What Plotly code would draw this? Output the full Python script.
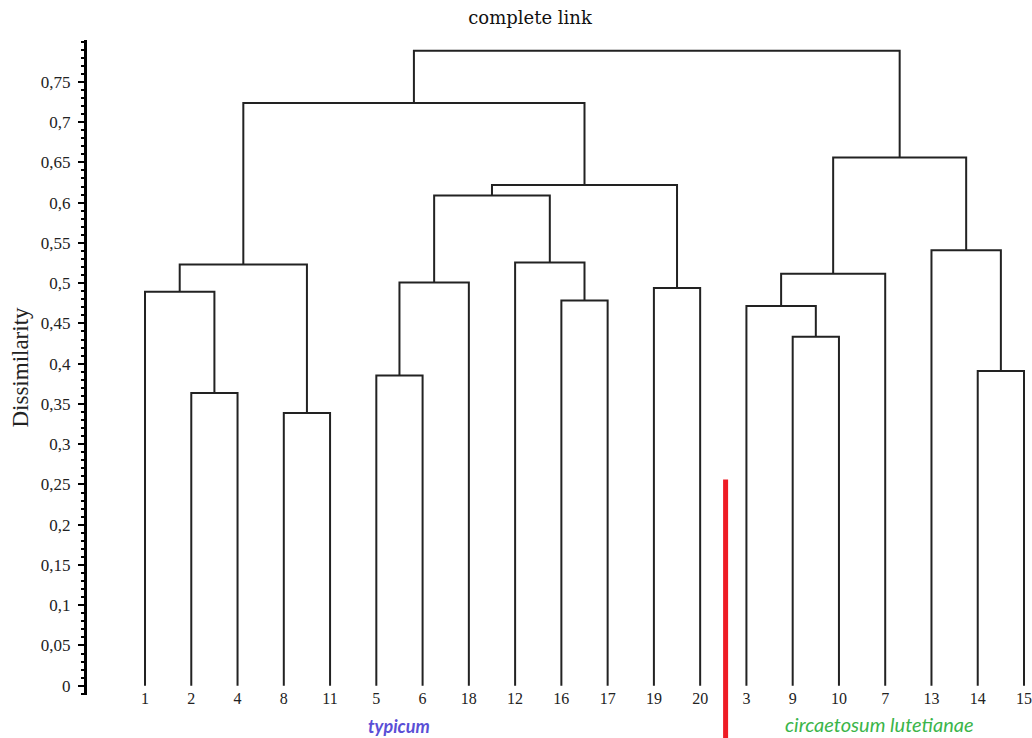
import plotly.graph_objects as go

# ---- data ----
leaves = ["1", "2", "4", "8", "11", "5", "6", "18", "12", "16", "17",
          "19", "20", "3", "9", "10", "7", "13", "14", "15"]

merge_left = ["2", "8", "1", "m2", "5", "m4", "16", "12", "m5", "19", "m8", "m3",
              "9", "3", "m13", "14", "13", "m14", "m11"]
merge_right = ["4", "11", "m0", "m1", "6", "18", "17", "m6", "m7", "20", "m9", "m10",
               "10", "m12", "7", "15", "m15", "m16", "m17"]
merge_height = [0.3635, 0.3386, 0.4893, 0.5233, 0.3854, 0.5009, 0.4786, 0.5258,
                0.6090, 0.4939, 0.6218, 0.7236, 0.4334, 0.4715, 0.5116, 0.3908,
                0.5410, 0.6562, 0.7885]

y_tickvals = [0, 0.05, 0.1, 0.15, 0.2, 0.25, 0.3, 0.35, 0.4, 0.45, 0.5, 0.55,
              0.6, 0.65, 0.7, 0.75]
y_ticktext = ["0", "0,05", "0,1", "0,15", "0,2", "0,25", "0,3", "0,35", "0,4",
              "0,45", "0,5", "0,55", "0,6", "0,65", "0,7", "0,75"]

group_names = ["typicum", "circaetosum lutetianae"]
group_colors = ["#5a4fd6", "#3bb54a"]
separator_x = 13.55
separator_top = 0.256

# ---- build dendrogram geometry ----
pos = {name: (i + 1, 0.0) for i, name in enumerate(leaves)}
xs, ys = [], []
for k, (a, b, h) in enumerate(zip(merge_left, merge_right, merge_height)):
    xa, ya = pos[a]
    xb, yb = pos[b]
    xs += [xa, xa, xb, xb, None]
    ys += [ya, h, h, yb, None]
    pos["m%d" % k] = ((xa + xb) / 2.0, h)

fig = go.Figure()
fig.add_trace(go.Scatter(x=xs, y=ys, mode="lines",
                         line=dict(color="#222222", width=2),
                         hoverinfo="skip", showlegend=False))

x_lo, x_hi = -0.254, 20.173
y_lo, y_hi = -0.0115, 0.802

fig.update_layout(
    width=1032, height=738,
    margin=dict(l=87, r=0, t=40, b=43),
    plot_bgcolor="white", paper_bgcolor="white",
    showlegend=False,
    title=dict(text="complete link", x=0.5136, xref="container", xanchor="center",
               y=0.976, yref="container", yanchor="middle",
               font=dict(family="DejaVu Serif", size=18, color="#111111")),
    xaxis=dict(range=[x_lo, x_hi], showgrid=False, zeroline=False, showline=False,
               tickmode="array", tickvals=list(range(1, len(leaves) + 1)),
               ticktext=leaves, ticks="", ticklabelstandoff=-8,
               tickfont=dict(family="Liberation Serif", size=16, color="#222222")),
    yaxis=dict(range=[y_lo, y_hi], showgrid=False, zeroline=False,
               showline=True, linecolor="black", linewidth=3,
               tickmode="array", tickvals=y_tickvals, ticktext=y_ticktext,
               ticks="outside", ticklen=6, tickwidth=2, tickcolor="black",
               ticklabelstandoff=4,
               minor=dict(dtick=0.01, ticks="outside", ticklen=3, tickwidth=1.5,
                          tickcolor="black", showgrid=False),
               tickfont=dict(family="Liberation Serif", size=17, color="#222222"),
               title=dict(text="Dissimilarity", standoff=6,
                          font=dict(family="Liberation Serif", size=23, color="#222222"))),
)

fig.add_shape(type="line", xref="x", yref="paper",
              x0=separator_x, x1=separator_x, y0=-0.08, y1=(separator_top - y_lo) / (y_hi - y_lo),
              line=dict(color="#ee1c25", width=5))

fig.add_annotation(text="<b><i>%s</i></b>" % group_names[0], xref="paper", yref="paper",
                   x=(398.5 - 87) / (1032 - 87), y=-0.0473, showarrow=False,
                   xanchor="center", yanchor="middle",
                   font=dict(family="Lato", size=18, color=group_colors[0]))
fig.add_annotation(text="<i>%s</i>" % group_names[1], xref="paper", yref="paper",
                   x=(879 - 87) / (1032 - 87), y=-0.0443, showarrow=False,
                   xanchor="center", yanchor="middle",
                   font=dict(family="Lato", size=20, color=group_colors[1]))

fig.write_html("out.html", config={"displayModeBar": False},
               post_script="document.body.style.margin='0';")
